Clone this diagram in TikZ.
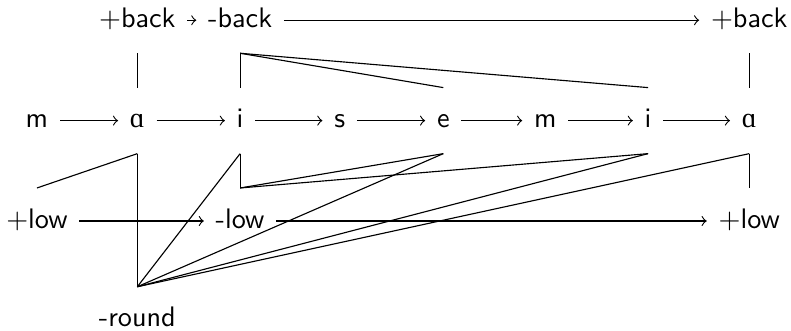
\documentclass[tikz,border=0pt]{standalone}
\usepackage{fontspec}
\newfontfamily\ipafont{Liberation Serif}
\newcommand{\scripta}{{\ipafont\char"0251}}
\renewcommand{\familydefault}{\sfdefault}
\tikzset{
  seg/.style={anchor=base, font=\sffamily, inner xsep=4pt, inner ysep=6pt, text height=8pt, text depth=3pt},
  assoc/.style={line width=0.4pt},
}

\begin{document}
\begin{tikzpicture}
			\useasboundingbox (0,0) rectangle (9.85,-4.11);
			
			% back tier
			\node[seg] (back1) at (1.71,-0.34) {$+$back};
			\node[seg] (back2) at (2.99,-0.34) {-back};
			\node[seg] (back3) at (9.33,-0.34) {$+$back};
			
			% segments
			\node[seg] (m1) at (0.46,-1.59) {m};
			\node[seg] (a1) at (1.71,-1.59) {\scripta};
			\node[seg] (i1) at (2.99,-1.59) {i};
			\node[seg] (s1) at (4.23,-1.59) {s};
			\node[seg] (e1) at (5.52,-1.59) {e};
			\node[seg] (m2) at (6.79,-1.59) {m};
			\node[seg] (i2) at (8.07,-1.59) {i};
			\node[seg] (a2) at (9.33,-1.59) {\scripta};
			
			% low tier
			\node[seg] (low1) at (0.46,-2.84) {$+$low};
			\node[seg] (low2) at (2.99,-2.84) {-low};
			\node[seg] (low3) at (9.33,-2.84) {$+$low};
			
			% round tier
			\node[seg] (round) at (1.71,-4.07) {-round};
			
			\draw[->] (back1) -- (back2);
			\draw[->] (back2) -- (back3);
			\draw[->] (m1) -- (a1);
			\draw[->] (a1) -- (i1);
			\draw[->] (i1) -- (s1);
			\draw[->] (s1) -- (e1);
			\draw[->] (e1) -- (m2);
			\draw[->] (m2) -- (i2);
			\draw[->] (i2) -- (a2);
			\draw[->] (low1) -- (low2);
			\draw[->] (low2) -- (low3);
			
			\draw[assoc] (back1.south) -- (a1.north);
			\draw[assoc] (back2.south) -- (i1.north);
			\draw[assoc] (back2.south) -- (e1.north);
			\draw[assoc] (back2.south) -- (i2.north);
			\draw[assoc] (back3.south) -- (a2.north);
			
			\draw[assoc] (low1.north) -- (a1.south);
			\draw[assoc] (low2.north) -- (i1.south);
			\draw[assoc] (low2.north) -- (e1.south);
			\draw[assoc] (low2.north) -- (i2.south);
			\draw[assoc] (low3.north) -- (a2.south);
			
			\draw[assoc] (round.north) -- (a1.south);
			\draw[assoc] (round.north) -- (i1.south);
			\draw[assoc] (round.north) -- (e1.south);
			\draw[assoc] (round.north) -- (i2.south);
			\draw[assoc] (round.north) -- (a2.south);
		\end{tikzpicture}
\end{document}
